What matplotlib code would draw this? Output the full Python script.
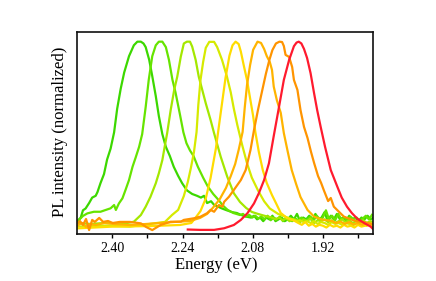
import matplotlib
matplotlib.use('Agg')
import matplotlib.pyplot as plt
from matplotlib.ticker import FixedLocator

plt.rcParams['font.family'] = ['Liberation Serif', 'DejaVu Serif']

# PL spectra, energy (eV) vs normalized intensity, green -> red
e1 = [2.482, 2.480, 2.476, 2.472, 2.467, 2.461, 2.453, 2.446, 2.438, 2.434, 2.427, 2.419, 2.412, 2.404, 2.396,
      2.389, 2.381, 2.373, 2.362, 2.351, 2.343, 2.335, 2.329, 2.324, 2.316, 2.309, 2.301, 2.294, 2.286, 2.278,
      2.269, 2.260, 2.250, 2.241, 2.230, 2.218, 2.207, 2.198, 2.191, 2.184, 2.175, 2.168, 2.159, 2.150, 2.139,
      2.127, 2.116, 2.107, 2.095, 2.084,
      2.077, 2.070, 2.063, 2.056, 2.049, 2.042, 2.035, 2.028, 2.021, 2.014, 2.007, 2.000, 1.993, 1.986, 1.979,
      1.972, 1.965, 1.958, 1.951, 1.944, 1.937, 1.930, 1.923, 1.916, 1.909, 1.902, 1.895, 1.888, 1.881, 1.874,
      1.867, 1.860, 1.853, 1.846, 1.839, 1.832, 1.825, 1.818, 1.811, 1.805]
i1 = [0.01, 0.01, 0.02, 0.03, 0.07, 0.08, 0.11, 0.14, 0.15, 0.17, 0.22, 0.27, 0.35, 0.41, 0.50,
      0.63, 0.74, 0.83, 0.92, 0.98, 1.00, 1.00, 0.99, 0.97, 0.90, 0.81, 0.70, 0.59, 0.49, 0.42,
      0.37, 0.31, 0.26, 0.22, 0.18, 0.16, 0.15, 0.14, 0.15, 0.11, 0.12, 0.10, 0.09, 0.08, 0.07,
      0.06, 0.055, 0.045, 0.035, 0.03,
      0.04, 0.02, 0.03, 0.01, 0.03, 0.02, 0.04, 0.01, 0.02, 0.03, 0.01, 0.02, 0.04, 0.02, 0.05,
      0.01, 0.03, 0.02, 0.04, 0.01, 0.05, 0.02, 0.03, 0.06, 0.01, 0.04, 0.02, 0.05, 0.02, 0.03,
      0.01, 0.04, 0.02, 0.03, 0.01, 0.03, 0.02, 0.04, 0.02, 0.03]

e2 = [2.482, 2.476, 2.467, 2.457, 2.442, 2.427, 2.415, 2.404, 2.396, 2.392, 2.385, 2.377, 2.370, 2.362, 2.354,
      2.347, 2.339, 2.332, 2.324, 2.317, 2.309, 2.301, 2.294, 2.286, 2.278, 2.271, 2.263, 2.256, 2.246, 2.238,
      2.231, 2.223, 2.215, 2.205, 2.193, 2.182, 2.170, 2.159, 2.147, 2.137, 2.124, 2.109,
      2.102, 2.095, 2.088, 2.081, 2.074, 2.067, 2.060, 2.053, 2.046, 2.039, 2.032, 2.025, 2.018, 2.011, 2.004,
      1.997, 1.990, 1.983, 1.976, 1.969, 1.962, 1.955, 1.948, 1.941, 1.934, 1.927, 1.920, 1.913, 1.906, 1.899,
      1.892, 1.885, 1.878, 1.871, 1.864, 1.857, 1.850, 1.843, 1.836, 1.829, 1.822, 1.815, 1.808]
i2 = [0.01, 0.017, 0.039, 0.053, 0.062, 0.062, 0.072, 0.081, 0.099, 0.072, 0.108, 0.136, 0.182, 0.237, 0.31,
      0.36, 0.42, 0.49, 0.64, 0.79, 0.92, 0.98, 1.00, 1.00, 0.97, 0.90, 0.79, 0.72, 0.60, 0.50,
      0.44, 0.40, 0.37, 0.31, 0.25, 0.20, 0.16, 0.13, 0.094, 0.072, 0.055, 0.044,
      0.05, 0.035, 0.045, 0.03, 0.04, 0.025, 0.035, 0.02, 0.04, 0.015, 0.03, 0.02, 0.035, 0.01, 0.03,
      0.02, 0.01, 0.025, 0.015, 0.03, 0.01, 0.02, 0.035, 0.015, 0.04, 0.02, 0.03, 0.07, 0.02, 0.04,
      0.015, 0.05, 0.02, 0.03, 0.015, 0.035, 0.02, 0.03, 0.01, 0.025, 0.04, 0.02, 0.045]

e3 = [2.482, 2.451, 2.417, 2.383, 2.366, 2.351, 2.335, 2.324, 2.313, 2.301, 2.294, 2.286, 2.280, 2.275, 2.267,
      2.259, 2.252, 2.244, 2.237, 2.230, 2.223, 2.218, 2.210, 2.203, 2.195, 2.187, 2.176, 2.168, 2.153, 2.138,
      2.123, 2.109, 2.095, 2.082, 2.068, 2.052,
      2.044, 2.036, 2.028, 2.020, 2.012, 2.004, 1.996, 1.988, 1.980, 1.972, 1.964, 1.956, 1.948, 1.940, 1.932,
      1.924, 1.916, 1.908, 1.900, 1.892, 1.884, 1.876, 1.868, 1.860, 1.852, 1.844, 1.836, 1.828, 1.820, 1.812,
      1.805]
i3 = [0.0, -0.005, 0.0, -0.005, 0.0, 0.007, 0.044, 0.09, 0.145, 0.219, 0.274, 0.347, 0.43, 0.496, 0.623,
      0.734, 0.807, 0.917, 0.99, 1.0, 1.0, 0.973, 0.899, 0.807, 0.734, 0.66, 0.568, 0.495, 0.366, 0.255,
      0.164, 0.116, 0.083, 0.061, 0.05, 0.039,
      0.035, 0.03, 0.02, 0.03, 0.015, 0.025, 0.01, 0.02, 0.015, 0.005, 0.02, 0.01, 0.025, 0.0, 0.015,
      0.01, 0.02, 0.005, 0.015, 0.0, 0.01, 0.02, 0.005, 0.015, 0.0, 0.01, 0.005, 0.015, 0.0, 0.01,
      0.005]

e4 = [2.482, 2.420, 2.360, 2.314, 2.280, 2.264, 2.250, 2.237, 2.228, 2.221, 2.214, 2.208, 2.204, 2.199, 2.193,
      2.187, 2.179, 2.168, 2.161, 2.150, 2.139, 2.130, 2.123, 2.115, 2.104, 2.093, 2.082, 2.068, 2.054, 2.041,
      2.022, 2.004,
      1.996, 1.988, 1.980, 1.972, 1.964, 1.956, 1.948, 1.940, 1.932, 1.924, 1.916, 1.908, 1.900, 1.892, 1.884,
      1.876, 1.868, 1.860, 1.852, 1.844, 1.836, 1.828, 1.820, 1.812, 1.805]
i4 = [-0.02, -0.015, -0.02, -0.005, 0.006, 0.044, 0.072, 0.149, 0.226, 0.303, 0.39, 0.502, 0.651, 0.789, 0.888,
      0.966, 0.999, 0.999, 0.97, 0.90, 0.81, 0.72, 0.63, 0.54, 0.43, 0.33, 0.25, 0.18, 0.12, 0.08,
      0.05, 0.033,
      0.025, 0.02, 0.01, 0.015, 0.005, 0.01, 0.0, 0.01, -0.005, 0.005, 0.0, -0.01, 0.005, -0.005, 0.0,
      -0.01, 0.0, -0.005, -0.015, 0.0, -0.01, -0.005, -0.015, 0.0, -0.01]

e5 = [2.482, 2.400, 2.314, 2.246, 2.220, 2.210, 2.199, 2.187, 2.176, 2.164, 2.153, 2.142, 2.133, 2.126, 2.119,
      2.112, 2.107, 2.100, 2.093, 2.086, 2.079, 2.074, 2.066, 2.057, 2.048, 2.036, 2.027, 2.016, 2.002, 1.984,
      1.976, 1.968, 1.960, 1.952, 1.944, 1.936, 1.928, 1.920, 1.912, 1.904, 1.896, 1.888, 1.880, 1.872, 1.864,
      1.856, 1.848, 1.840, 1.832, 1.824, 1.816, 1.805]
i5 = [-0.03, -0.02, -0.017, -0.011, 0.0, 0.03, 0.066, 0.135, 0.249, 0.41, 0.606, 0.80, 0.923, 0.98, 1.0,
      0.987, 0.945, 0.865, 0.789, 0.689, 0.59, 0.502, 0.392, 0.292, 0.221, 0.154, 0.11, 0.055, 0.028, 0.011,
      0.0, -0.01, 0.005, -0.015, -0.005, -0.02, -0.01, -0.015, -0.025, -0.01, -0.02, -0.015, -0.025, -0.01, -0.02,
      -0.015, -0.025, -0.01, -0.02, -0.015, -0.01, -0.02]

e6 = [2.482, 2.469, 2.460, 2.451, 2.437, 2.419, 2.394, 2.360, 2.326, 2.291, 2.257, 2.223, 2.200, 2.184, 2.171,
      2.155, 2.141, 2.130, 2.120, 2.112, 2.103, 2.098, 2.093, 2.086, 2.079, 2.069, 2.061, 2.054, 2.048, 2.041,
      2.036, 2.032, 2.025, 2.016, 2.009, 2.000, 1.991, 1.981, 1.971, 1.955, 1.940, 1.922, 1.899,
      1.890, 1.880, 1.870, 1.860, 1.850, 1.840, 1.830, 1.820, 1.812, 1.805]
i6 = [-0.017, 0.0, -0.022, -0.006, -0.011, 0.0, -0.006, -0.011, -0.006, 0.0, 0.006, 0.011, 0.028, 0.05, 0.083,
      0.132, 0.193, 0.259, 0.325, 0.403, 0.502, 0.64, 0.76, 0.87, 0.955, 1.0, 0.993, 0.96, 0.921, 0.888,
      0.844, 0.752, 0.678, 0.607, 0.496, 0.392, 0.292, 0.215, 0.143, 0.072, 0.035, 0.019, 0.011,
      0.0, 0.008, -0.005, 0.005, -0.008, 0.0, -0.01, 0.0, -0.012, -0.005]

e7 = [2.482, 2.474, 2.467, 2.460, 2.453, 2.446, 2.440, 2.430, 2.421, 2.410, 2.399, 2.383, 2.360, 2.335, 2.323,
      2.309, 2.290, 2.267, 2.244, 2.237, 2.214, 2.199, 2.184, 2.176, 2.168, 2.157, 2.149, 2.145, 2.134, 2.123,
      2.107, 2.096, 2.085, 2.077, 2.068, 2.059, 2.050, 2.042, 2.035, 2.027, 2.019, 2.013, 2.009, 2.005, 1.997,
      1.990, 1.986, 1.978, 1.971, 1.963, 1.955, 1.947, 1.940, 1.931, 1.924, 1.918, 1.908, 1.902, 1.895, 1.883,
      1.872, 1.858, 1.845, 1.831, 1.817, 1.806]
i7 = [-0.006, 0.011, -0.011, 0.022, -0.039, 0.017, 0.006, 0.028, 0.006, 0.011, 0.0, 0.006, 0.006, -0.002, -0.022,
      -0.039, -0.011, 0.007, 0.007, 0.017, 0.026, 0.035, 0.054, 0.072, 0.062, 0.099, 0.09, 0.117, 0.145, 0.182,
      0.237, 0.292, 0.403, 0.513, 0.623, 0.723, 0.822, 0.899, 0.954, 0.99, 1.0, 0.998, 0.976, 0.927, 0.916,
      0.86, 0.789, 0.734, 0.623, 0.53, 0.469, 0.392, 0.331, 0.259, 0.221, 0.182, 0.121, 0.138, 0.09, 0.061,
      0.035, 0.022, 0.011, 0.006, 0.0, -0.006]

e8 = [2.228, 2.200, 2.168, 2.145, 2.123, 2.107, 2.092, 2.077, 2.066, 2.054, 2.043, 2.032, 2.020, 2.009, 1.997,
      1.986, 1.980, 1.975, 1.969, 1.963, 1.956, 1.948, 1.940, 1.933, 1.925, 1.915, 1.902, 1.887, 1.877, 1.865,
      1.854, 1.842, 1.826, 1.811, 1.805]
i8 = [-0.036, -0.038, -0.038, -0.029, -0.011, 0.017, 0.054, 0.108, 0.164, 0.237, 0.329, 0.48, 0.64, 0.789, 0.899,
      0.975, 0.995, 1.0, 0.99, 0.96, 0.91, 0.826, 0.715, 0.623, 0.53, 0.42, 0.292, 0.2, 0.14, 0.09,
      0.055, 0.025, 0.0, -0.02, -0.035]

spectra = [(e1, i1), (e2, i2), (e3, i3), (e4, i4), (e5, i5), (e6, i6), (e7, i7), (e8, i8)]
colors = ['#3cd800', '#66e400', '#a4e800', '#d6ea00', '#ffdc00', '#ffb400', '#ff9400', '#ff1a2e']

major_ticks = [2.40, 2.24, 2.08, 1.92]
minor_ticks = [2.32, 2.16, 2.00, 1.84]

fig = plt.figure(figsize=(4.36, 2.81), dpi=100)
ax = fig.add_axes([0.1755, 0.169, 0.6807, 0.7182])

for (e, i), c in zip(spectra, colors):
    ax.plot(e, i, color=c, linewidth=1.6, solid_joinstyle='round')

ax.set_xlim(2.4817, 1.805)
ax.set_ylim(-0.058, 1.055)

ax.xaxis.set_major_locator(FixedLocator(major_ticks))
ax.xaxis.set_minor_locator(FixedLocator(minor_ticks))
ax.set_xticklabels(['%.2f' % t for t in major_ticks])
ax.tick_params(axis='x', which='both', direction='out', length=3, width=1.0, pad=3, labelsize=10)
ax.set_yticks([])
for s in ax.spines.values():
    s.set_linewidth(1.2)
    s.set_color('#111111')

fig.text(216 / 436, 0.057, 'Energy (eV)', ha='center', va='center', fontsize=12)
fig.text(0.1376, 0.530, 'PL intensity (normalized)', ha='center', va='center',
         rotation=90, fontsize=12)

fig.savefig('out.png', dpi=100)
